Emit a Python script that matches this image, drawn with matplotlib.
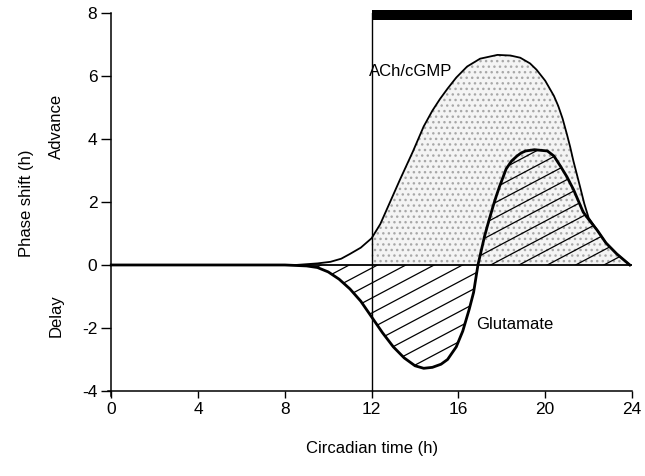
import matplotlib
matplotlib.use('Agg')
import matplotlib.pyplot as plt
import numpy as np
from matplotlib.patches import Polygon

plt.rcParams['font.family'] = ['Liberation Sans', 'DejaVu Sans']
plt.rcParams['axes.unicode_minus'] = False
plt.rcParams['hatch.linewidth'] = 1.0

# ---- data ----
ach_x = [0, 7.5, 8.5, 9.5, 10.1, 10.6, 11.0, 11.5, 12.0, 12.4, 12.85, 13.3, 13.9,
         14.4, 14.8, 15.15, 15.5, 15.9, 16.4, 17.0, 17.8, 18.4, 18.85, 19.3, 19.6,
         20.0, 20.4, 20.6, 20.8, 21.0, 21.15, 21.3, 21.45, 21.6, 21.8, 22.0, 22.4,
         22.8, 23.3, 23.9]
ach_y = [0, 0, 0.0, 0.05, 0.1, 0.2, 0.35, 0.55, 0.85, 1.3, 2.0, 2.7, 3.6,
         4.4, 4.9, 5.27, 5.6, 5.95, 6.3, 6.55, 6.67, 6.65, 6.58, 6.4, 6.2,
         5.85, 5.37, 5.05, 4.65, 4.15, 3.75, 3.3, 2.9, 2.5, 1.95, 1.5, 1.1,
         0.7, 0.35, 0.0]

glu_x = [0, 8.0, 9.0, 9.5, 10.0, 10.5, 11.0, 11.5, 12.0, 12.5, 13.0, 13.5, 14.0,
         14.4, 14.8, 15.2, 15.5, 15.9, 16.2, 16.5, 16.7, 16.9, 17.05, 17.2, 17.4,
         17.6, 17.75, 17.9, 18.2, 18.45, 18.7, 18.9, 19.1, 19.5, 20.1, 20.4, 20.7,
         21.0, 21.3, 21.75, 22.0, 22.4, 22.8, 23.3, 23.9]
glu_y = [0, 0, -0.03, -0.08, -0.22, -0.45, -0.76, -1.15, -1.65, -2.15, -2.6, -2.95, -3.2,
         -3.28, -3.25, -3.15, -3.0, -2.6, -2.1, -1.4, -0.87, 0.0, 0.45, 0.9, 1.4,
         1.87, 2.2, 2.5, 3.05, 3.3, 3.46, 3.56, 3.62, 3.66, 3.62, 3.46, 3.14,
         2.8, 2.4, 1.68, 1.45, 1.1, 0.7, 0.35, 0.0]

x_ticks = [0, 4, 8, 12, 16, 20, 24]
y_ticks = [-4, -2, 0, 2, 4, 6, 8]
night_start, night_end = 12, 24
night_bar = (7.77, 8.1)
label_ach = 'ACh/cGMP'
label_glu = 'Glutamate'

# ---- figure ----
W, H = 645, 476
fig = plt.figure(figsize=(W / 100, H / 100), dpi=100)
ax = fig.add_axes([108 / W, 1 - 395.7 / H, (632 - 108) / W, (395.7 - 13) / H])
ax.set_xlim(-0.15, 24)
ax.set_ylim(-4.15, 8)

for s in ['top', 'right']:
    ax.spines[s].set_visible(False)
ax.spines['left'].set_position(('data', 0))
ax.spines['bottom'].set_position(('data', -4))
for s in ['left', 'bottom']:
    ax.spines[s].set_linewidth(1.1)

ax.set_xticks(x_ticks)
ax.set_yticks(y_ticks)
ax.tick_params(axis='x', direction='out', length=5, width=1, labelsize=12.5, pad=3)
ax.tick_params(axis='y', direction='out', length=7, width=1, labelsize=12.5, pad=3)

a_x = np.array(ach_x)
a_y = np.array(ach_y)

# stippled ACh area (night portion)
mask = a_x >= night_start
ax.fill_between(a_x[mask], a_y[mask], 0, facecolor='#f4f4f4', edgecolor='#a8a8a8',
                hatch='...', linewidth=0, zorder=1)
ax.plot(ach_x, ach_y, color='black', lw=1.3, zorder=4)

# hatched glutamate area
poly = Polygon(np.column_stack([glu_x, glu_y]), closed=True, facecolor='none',
               edgecolor='none')
ax.add_patch(poly)
slope = 0.365
spacing = 0.476
for c in np.arange(-14, 4, spacing):
    ln, = ax.plot([-1, 25], [slope * -1 + c, slope * 25 + c], color='black', lw=0.9,
                  zorder=3)
    ln.set_clip_path(poly)
ax.plot(glu_x, glu_y, color='black', lw=2.0, zorder=5)

# reference lines
ax.plot([x_ticks[0], x_ticks[-1]], [0, 0], color='black', lw=1.3, zorder=2)
ax.plot([night_start, night_start], [y_ticks[0], night_bar[1]], color='black', lw=1.0, zorder=2)
ax.fill_between([night_start, night_end], night_bar[0], night_bar[1], color='black',
                lw=0, clip_on=False, zorder=6)

ax.text(13.78, 6.15, label_ach, ha='center', va='center', fontsize=12)
ax.text(18.6, -1.9, label_glu, ha='center', va='center', fontsize=12)

fig.text(26 / W, 1 - 203 / H, 'Phase shift (h)', rotation=90, ha='center', va='center', fontsize=12)
fig.text(56 / W, 1 - 126 / H, 'Advance', rotation=90, ha='center', va='center', fontsize=12)
fig.text(56 / W, 1 - 316 / H, 'Delay', rotation=90, ha='center', va='center', fontsize=12)
fig.text(372 / W, 1 - 449 / H, 'Circadian time (h)', ha='center', va='center', fontsize=12)

fig.savefig('out.png', dpi=100)
